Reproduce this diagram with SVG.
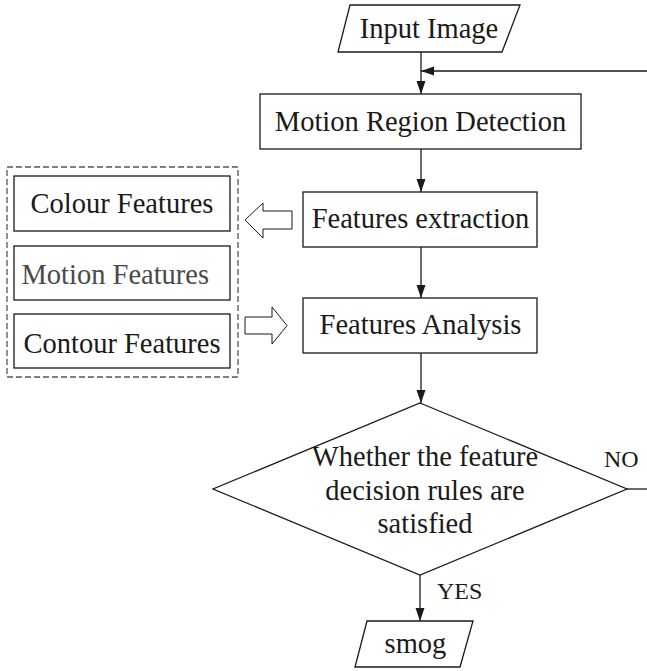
<svg xmlns="http://www.w3.org/2000/svg" width="647" height="671" viewBox="0 0 647 671">
<style>
.shape{fill:#fff;stroke:#1a1a1a;stroke-width:1.3}
.t{font-family:"Liberation Serif","Times New Roman",serif;font-size:28.5px;fill:#1a1a1a;text-anchor:middle}
.s{font-family:"Liberation Serif","Times New Roman",serif;font-size:24px;fill:#1a1a1a}
.line{fill:none;stroke:#1a1a1a;stroke-width:1.3}
.block{fill:#fff;stroke:#1a1a1a;stroke-width:1}
</style>
<defs>
<marker id="ah" markerUnits="userSpaceOnUse" markerWidth="14" markerHeight="10" refX="13" refY="4.5" orient="auto">
<path d="M0,0 L13,4.5 L0,9 Z" fill="#1a1a1a"/>
</marker>
</defs>
<rect width="647" height="671" fill="#fff"/>

<g id="input">
<polygon class="shape" points="350,5 520,5 502,52 338,52"/>
<text class="t" x="429" y="37.5">Input Image</text>
</g>
<g id="motion-region-detection">
<rect class="shape" x="260" y="94" width="321" height="55"/>
<text class="t" x="420.5" y="130.5">Motion Region Detection</text>
</g>
<g id="features-extraction">
<rect class="shape" x="303" y="192" width="234" height="55"/>
<text class="t" x="420.5" y="227.5">Features extraction</text>
</g>
<g id="features-analysis">
<rect class="shape" x="303" y="298" width="234" height="55"/>
<text class="t" x="420.5" y="333.5">Features Analysis</text>
</g>
<g id="feature-group">
<rect x="7" y="167" width="231" height="210" fill="none" stroke="#555" stroke-width="1.3" stroke-dasharray="6 3"/>
</g>
<g id="colour-features">
<rect class="shape" x="14" y="176" width="216" height="55"/>
<text class="t" x="122" y="213">Colour Features</text>
</g>
<g id="motion-features">
<rect class="shape" x="14" y="246" width="216" height="54"/>
<text class="t" x="21.5" y="284" style="text-anchor:start;fill:#4a4a4a">Motion Features</text>
</g>
<g id="contour-features">
<rect class="shape" x="14" y="314" width="216" height="54"/>
<text class="t" x="122" y="352.5">Contour Features</text>
</g>
<g id="decision">
<polygon class="shape" points="420,403 627,489 420,575 213,489"/>
<text class="t" x="425" y="466">Whether the feature</text>
<text class="t" x="425" y="499.5">decision rules are</text>
<text class="t" x="425" y="533">satisfied</text>
</g>
<g id="smog">
<polygon class="shape" points="367,621 473,621 460,667 355,667"/>
<text class="t" x="415.5" y="653">smog</text>
</g>

<g id="connectors">
<line class="line" x1="421" y1="52" x2="421" y2="94" marker-end="url(#ah)"/>
<line class="line" x1="647" y1="71" x2="421" y2="71" marker-end="url(#ah)"/>
<line class="line" x1="421" y1="149" x2="421" y2="192" marker-end="url(#ah)"/>
<line class="line" x1="421" y1="247" x2="421" y2="298" marker-end="url(#ah)"/>
<line class="line" x1="421" y1="353" x2="421" y2="403" marker-end="url(#ah)"/>
<line class="line" x1="627" y1="489" x2="647" y2="489"/>
<line class="line" x1="420" y1="575" x2="420" y2="621" marker-end="url(#ah)"/>
<polygon class="block" points="245,220 263,203 263,211 292,211 292,229 263,229 263,238"/>
<polygon class="block" points="245,317 272,317 272,307 287,325.5 272,344 272,334 245,334"/>
<text class="s" x="604" y="467">NO</text>
<text class="s" x="437" y="599">YES</text>
</g>
</svg>
